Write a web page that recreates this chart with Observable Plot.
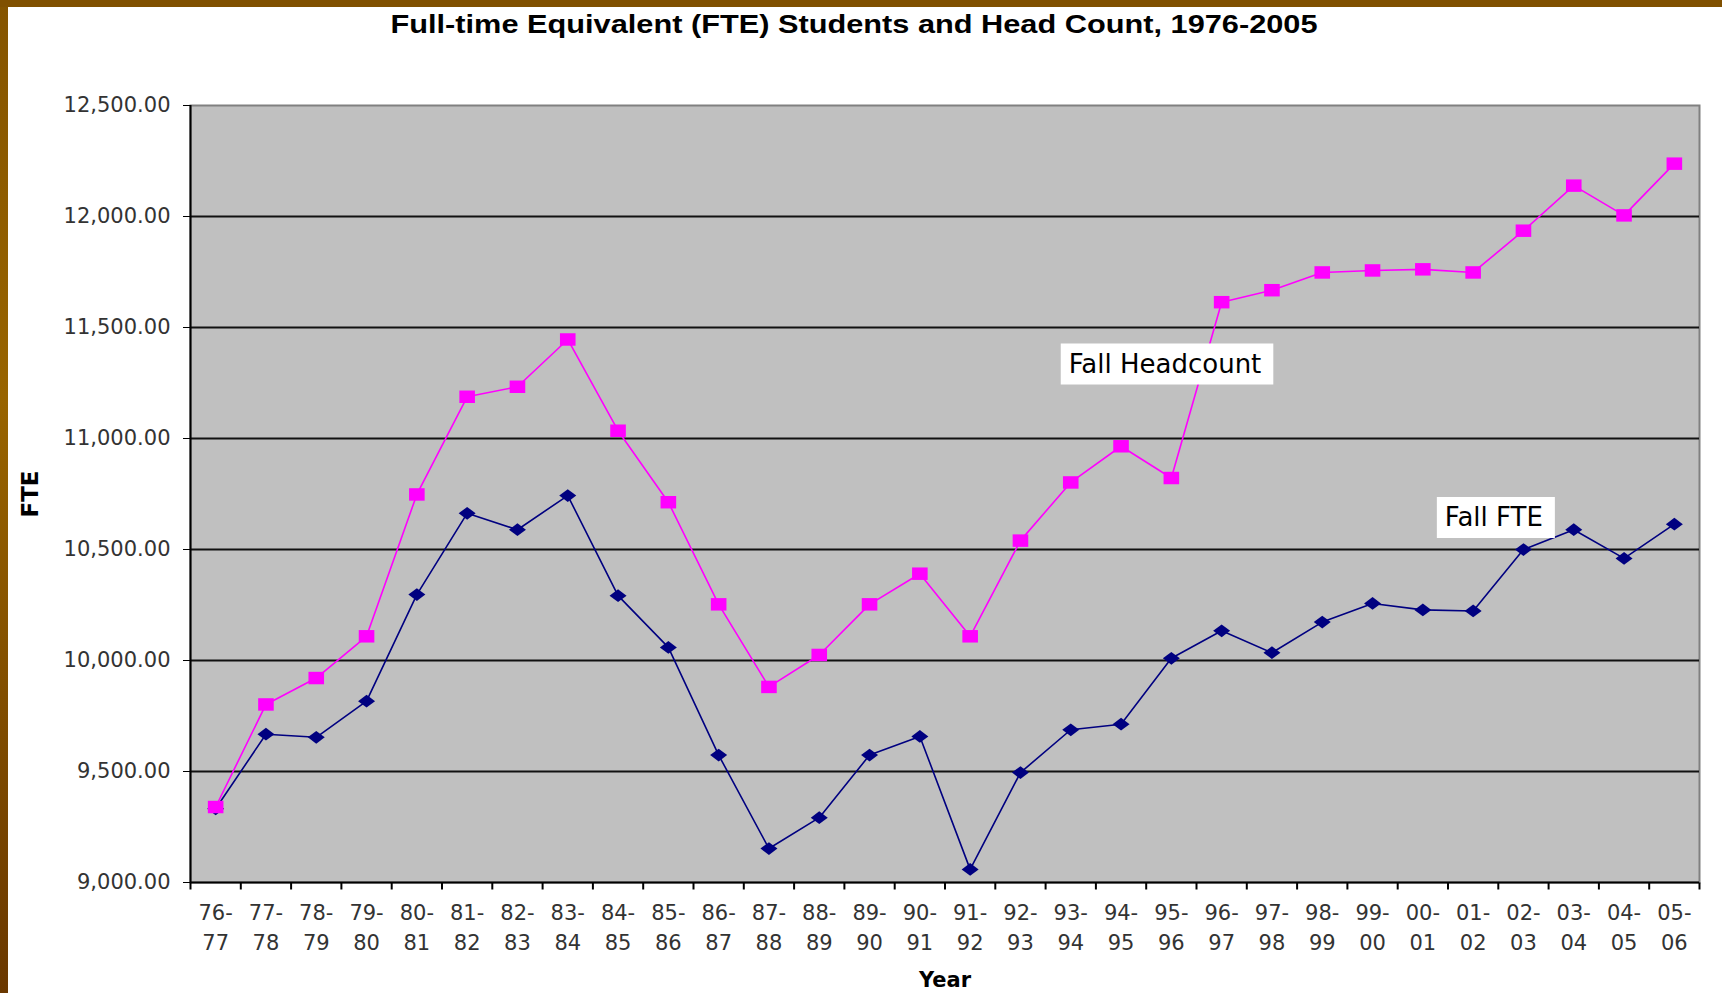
<!DOCTYPE html>
<html><head><meta charset="utf-8">
<script src="https://cdn.jsdelivr.net/npm/d3@7"></script>
<script src="https://cdn.jsdelivr.net/npm/@observablehq/plot@0.6"></script>
<style>
html,body{margin:0;padding:0;background:#fff;}
#wrap{position:relative;width:1722px;height:993px;overflow:hidden;background:#fff;}
#chart{position:absolute;left:0;top:0;}
#topbar{position:absolute;left:0;top:0;width:1722px;height:7px;background:#805000;}
#leftbar{position:absolute;left:0;top:0;width:8px;height:993px;background:linear-gradient(#845400,#986400 40%,#6a3800);}
</style></head><body>
<div id="wrap"><div id="chart"></div><div id="leftbar"></div><div id="topbar"></div></div>
<script>
const years = ["76-77","77-78","78-79","79-80","80-81","81-82","82-83","83-84","84-85","85-86",
  "86-87","87-88","88-89","89-90","90-91","91-92","92-93","93-94","94-95","95-96",
  "96-97","97-98","98-99","99-00","00-01","01-02","02-03","03-04","04-05","05-06"];
const headcount = [9340, 9802, 9921, 10109, 10748, 11188, 11233, 11446, 11035, 10713,
  10253, 9881, 10025, 10253, 10391, 10109, 10540, 10802, 10965, 10822,
  11614, 11668, 11748, 11757, 11762, 11748, 11936, 12139, 12005, 12238];
const fte = [9332, 9668, 9654, 9817, 10297, 10663, 10589, 10743, 10292, 10059,
  9574, 9153, 9292, 9574, 9658, 9059, 9495, 9688, 9713, 10010,
  10134, 10035, 10173, 10257, 10228, 10223, 10500, 10589, 10460, 10614];
const yTicks = [9000, 9500, 10000, 10500, 11000, 11500, 12000, 12500];
const seriesNames = ["Fall Headcount", "Fall FTE"];
const labelAt = ["93-94", "00-01"];
const labelValue = [11333, 10642];
const titleText = "Full-time Equivalent (FTE) Students and Head Count, 1976-2005";

const data = years.map((y, i) => ({year: y, headcount: headcount[i], fte: fte[i]}));

const W = 1722, H = 993, ML = 190, MR = 23, MT = 105, MB = 111;
const step = (W - ML - MR) / years.length;

const squareSym = {draw(ctx, size) { const r = Math.sqrt(size / Math.PI); ctx.rect(-r, -r * 0.8, 2 * r, 1.6 * r); }};
const diamondSym = {draw(ctx, size) { const r = Math.sqrt(size / Math.PI); const h = r * 0.75;
  ctx.moveTo(-r, 0); ctx.lineTo(0, -h); ctx.lineTo(r, 0); ctx.lineTo(0, h); ctx.closePath(); }};
const vTick = {draw(ctx, size) { ctx.moveTo(0, 0); ctx.lineTo(0, 7); }};

// white label boxes sized from the label text
const measure = document.createElement("canvas").getContext("2d");
measure.font = "26px 'DejaVu Sans'";
const boxSym = seriesNames.map(name => {
  const w = measure.measureText(name).width;
  return {draw(ctx, size) { ctx.rect(-8, -21, w + 20, 41); }};
});

const labelMarks = (i, dx) => [
  Plot.dot([i], {x: () => labelAt[i], y: () => labelValue[i], symbol: boxSym[i], r: 5, fill: "#fff", stroke: "none", dx}),
  Plot.text([i], {x: () => labelAt[i], y: () => labelValue[i], text: () => seriesNames[i], textAnchor: "start", dx, fontSize: 26, fill: "#000"})
];

const chart = Plot.plot({
  width: W, height: H,
  marginLeft: ML, marginRight: MR, marginTop: MT, marginBottom: MB,
  style: {background: "none", fontFamily: "DejaVu Sans", fontSize: "21px", overflow: "visible"},
  x: {type: "point", domain: years, padding: 0.5, round: false, label: null},
  y: {domain: [9000, 12500], label: null},
  marks: [
    Plot.frame({fill: "#C0C0C0", stroke: "#808080", strokeWidth: 2}),
    Plot.ruleY(yTicks.filter(d => d > 9000 && d < 12500), {stroke: "#111", strokeWidth: 2}),
    Plot.ruleY([9000], {stroke: "#000", strokeWidth: 2}),
    Plot.ruleX([years[0]], {dx: -step / 2, stroke: "#000", strokeWidth: 2}),
    Plot.dot(years, {x: d => d, y: () => 9000, symbol: vTick, r: 4, fill: "none", stroke: "#000", strokeWidth: 2, dx: -step / 2}),
    Plot.dot([years[years.length - 1]], {x: d => d, y: () => 9000, symbol: vTick, r: 4, fill: "none", stroke: "#000", strokeWidth: 2, dx: step / 2}),
    Plot.axisY(yTicks, {tickSize: 7, tickPadding: 13, tickFormat: d3.format(",.2f"), fontSize: 21, stroke: "#000", fill: "#333", label: null}),
    Plot.axisX({tickSize: 0, tickPadding: 17, tickFormat: d => d.replace("-", "-\n"), lineHeight: 1.4, fontSize: 21, fill: "#333", label: null}),
    Plot.line(data, {x: "year", y: "fte", stroke: "#000080", strokeWidth: 1.6}),
    Plot.dot(data, {x: "year", y: "fte", symbol: diamondSym, r: 8.5, fill: "#000080", stroke: "none"}),
    Plot.line(data, {x: "year", y: "headcount", stroke: "#FF00FF", strokeWidth: 1.6}),
    Plot.dot(data, {x: "year", y: "headcount", symbol: squareSym, r: 7.8, fill: "#FF00FF", stroke: "none"}),
    ...labelMarks(0, -2),
    ...labelMarks(1, 22),
    Plot.text(["FTE"], {frameAnchor: "left", dx: -160, rotate: -90, textAnchor: "middle", lineAnchor: "middle", fontWeight: "bold", fontSize: 23, fill: "#000"}),
    Plot.text(["Year"], {frameAnchor: "bottom", dy: 98, textAnchor: "middle", lineAnchor: "middle", fontWeight: "bold", fontSize: 21, fill: "#000"}),
    Plot.text([titleText], {frameAnchor: "top-left", dx: 200, dy: -81, textAnchor: "start", lineAnchor: "middle", fontWeight: "bold", fontSize: 25, fontFamily: "Liberation Sans", fill: "#000"})
  ]
});
document.getElementById("chart").appendChild(chart);

// stretch the title to the reference's width
chart.querySelectorAll("text").forEach(t => {
  if (t.textContent.trim() === titleText) {
    t.setAttribute("textLength", 927);
    t.setAttribute("lengthAdjust", "spacingAndGlyphs");
  }
});
</script>
</body></html>
